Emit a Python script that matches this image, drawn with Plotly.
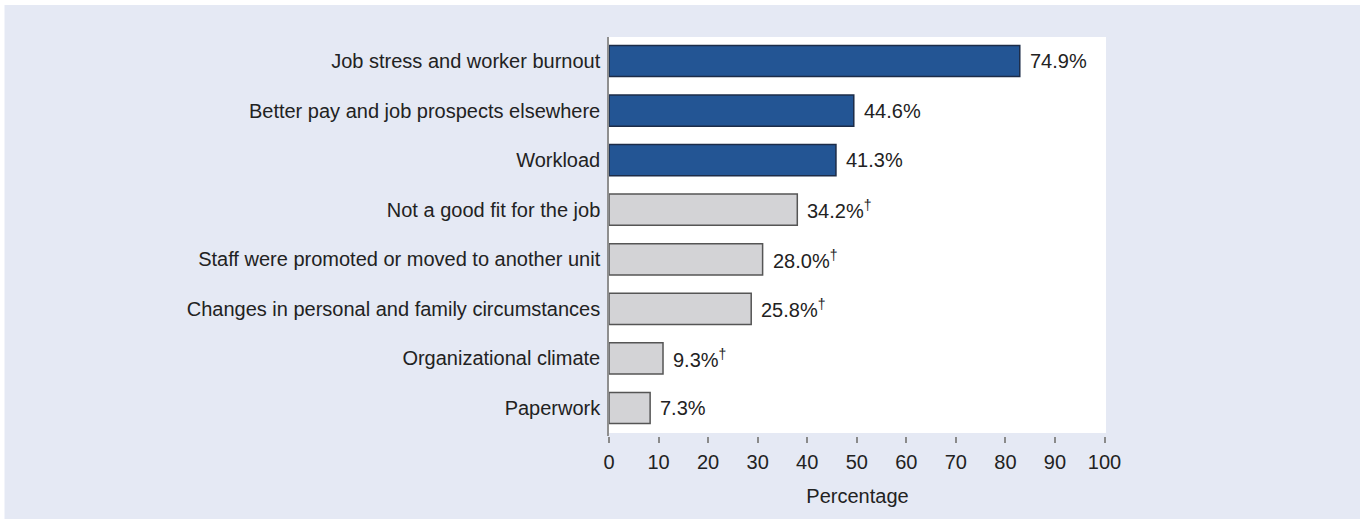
import plotly.graph_objects as go

# ---- data (top to bottom as shown) ----
categories = [
    "Job stress and worker burnout",
    "Better pay and job prospects elsewhere",
    "Workload",
    "Not a good fit for the job",
    "Staff were promoted or moved to another unit",
    "Changes in personal and family circumstances",
    "Organizational climate",
    "Paperwork",
]
# bar lengths as read against the drawn axis
bar_values = [82.9, 49.4, 45.8, 38.0, 31.0, 28.7, 10.9, 8.3]
# printed value labels
value_labels = ["74.9%", "44.6%", "41.3%", "34.2%", "28.0%", "25.8%", "9.3%", "7.3%"]
dagger = [False, False, False, True, True, True, True, False]
highlight = [True, True, True, False, False, False, False, False]
tick_values = [0, 10, 20, 30, 40, 50, 60, 70, 80, 90, 100]
tick_labels = [str(v) for v in tick_values]
x_title = "Percentage"

BLUE = "#235594"
BLUE_EDGE = "#1c2c48"
GREY = "#d3d3d6"
GREY_EDGE = "#555555"
LAVENDER = "#e5e9f4"
TEXT = "#222222"
FONT = "Liberation Sans, Arial, sans-serif"
FS = 20

fill = [BLUE if h else GREY for h in highlight]
edge = [BLUE_EDGE if h else GREY_EDGE for h in highlight]

fig = go.Figure()
fig.add_trace(go.Bar(
    y=categories,
    x=bar_values,
    orientation="h",
    marker=dict(color=fill, line=dict(color=edge, width=1.5)),
    width=0.63,
    hoverinfo="skip",
))

annotations = []
for cat, v, lab, d in zip(categories, bar_values, value_labels, dagger):
    txt = lab + ("<sup>†</sup>" if d else "")
    annotations.append(dict(
        x=v, y=cat, xref="x", yref="y", text=txt, showarrow=False,
        xanchor="left", yanchor="middle", xshift=8,
        font=dict(family=FONT, size=FS, color=TEXT),
    ))

# plot area geometry: left 609, right 1106, top 37, bottom 436 (px)
L, R, T, B = 609, 1360 - 1106, 37, 519 - 436
PW, PH = 1360 - L - R, 519 - T - B

shapes = [
    # white panel inside the plot area (slight gap above the ticks)
    dict(type="rect", xref="x domain", yref="y domain", x0=0, x1=1,
         y0=3 / PH, y1=1, fillcolor="white", line=dict(width=0), layer="below"),
    # thin white frame on the top and left of the picture
    dict(type="rect", xref="paper", yref="paper",
         x0=(0 - L) / PW, x1=(4.5 - L) / PW, y0=(436 - 519) / PH, y1=(436 - 0) / PH,
         fillcolor="white", line=dict(width=0), layer="below"),
    dict(type="rect", xref="paper", yref="paper",
         x0=(0 - L) / PW, x1=(1360 - L) / PW, y0=(436 - 5) / PH, y1=(436 - 0) / PH,
         fillcolor="white", line=dict(width=0), layer="below"),
]

fig.update_layout(
    width=1360, height=519,
    margin=dict(l=L, r=R, t=T, b=B, pad=0),
    paper_bgcolor=LAVENDER,
    plot_bgcolor=LAVENDER,
    showlegend=False,
    font=dict(family=FONT, size=FS, color=TEXT),
    annotations=annotations,
    shapes=shapes,
    xaxis=dict(
        range=[0, 100.3],
        tickvals=tick_values,
        ticktext=tick_labels,
        ticks="outside", ticklen=6, tickwidth=1.5, tickcolor="#8a8a8a",
        showgrid=False, zeroline=False, showline=False,
        tickfont=dict(family=FONT, size=FS, color=TEXT),
        ticklabelstandoff=2,
        title=dict(text=x_title, font=dict(family=FONT, size=FS, color=TEXT), standoff=16),
        fixedrange=True,
    ),
    yaxis=dict(
        categoryorder="array", categoryarray=categories,
        range=[7.565, -0.484],
        showline=True, linecolor="#8f8f8f", linewidth=1.5,
        ticks="", showgrid=False, zeroline=False,
        ticklabelstandoff=3,
        tickfont=dict(family=FONT, size=FS, color=TEXT),
        fixedrange=True,
    ),
)

fig.write_html("out.html", config={"displayModeBar": False})
